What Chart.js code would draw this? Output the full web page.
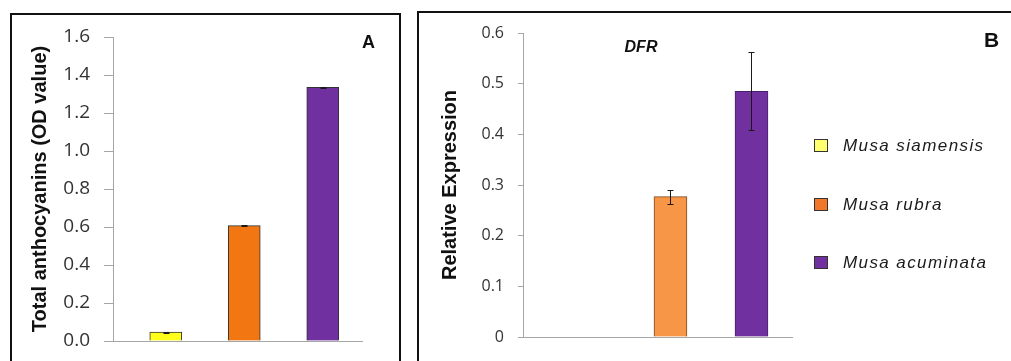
<!DOCTYPE html>
<html>
<head>
<meta charset="utf-8">
<script src="https://cdn.jsdelivr.net/npm/chart.js@4.4.0/dist/chart.umd.min.js"></script>
<style>
    body { margin: 0; background: #fff; width: 1011px; height: 361px; overflow: hidden; position: relative; }
    .frame { position: absolute; border: 2px solid #111; box-sizing: border-box; }
    #frameA { left: 10px; top: 13px; width: 391px; height: 400px; }
    #frameB { left: 417px; top: 11px; width: 700px; height: 400px; }
    canvas { position: absolute; top: 0; }
    #Anthocyanin { left: 0; }
    #Dfr { left: 405px; }
    .tag { position: absolute; line-height: 1; font-family: "Liberation Sans", Arial, sans-serif; font-weight: bold; color: #111; }
</style>
</head>
<body>
<div class="frame" id="frameA"></div>
<div class="frame" id="frameB"></div>
<canvas id="Anthocyanin" width="405" height="361"></canvas>
<canvas id="Dfr" width="606" height="361"></canvas>
<div class="tag" style="left:362px; top:33px; font-size:18px;">A</div>
<div class="tag" style="left:984px; top:29px; font-size:21px;">B</div>

<script>
    // values
    var species = ['Musa siamensis', 'Musa rubra', 'Musa acuminata'];
    var anthocyanin = [0.047, 0.607, 1.335];
    var anthocyaninErr = [0.003, 0.004, 0.003];
    var dfrExpression = [0, 0.277, 0.485];
    var dfrErr = [0, 0.014, 0.077];
    var ticksA = [0, 0.2, 0.4, 0.6, 0.8, 1.0, 1.2, 1.4, 1.6];
    var ticksB = [0, 0.1, 0.2, 0.3, 0.4, 0.5, 0.6];

    var coloursA = ['#ffff1a', '#f27712', '#7030a0'];
    var coloursB = ['#ffff66', '#f79646', '#7030a0'];
    var legendColours = ['#ffff70', '#f07828', '#7030a0'];
    var axisGrey = '#a6a6a6';

    // little I-shaped error bars on top of each bar
    var errorBars = {
        id: 'errorBars',
        afterDatasetsDraw: function (chart) {
            var ctx = chart.ctx;
            var y = chart.scales.y;
            chart.data.datasets.forEach(function (ds, d) {
                if (!ds.errors) return;
                chart.getDatasetMeta(d).data.forEach(function (bar, i) {
                    var e = ds.errors[i];
                    if (!e) return;
                    var v = ds.data[i].y;
                    var x = Math.round(bar.x) + 0.5;
                    var top = Math.round(y.getPixelForValue(v + e)) + 0.5;
                    var bot = Math.round(y.getPixelForValue(v - e)) + 0.5;
                    ctx.save();
                    ctx.strokeStyle = '#1a1a1a';
                    ctx.lineWidth = 1;
                    ctx.beginPath();
                    ctx.moveTo(x, top); ctx.lineTo(x, bot);
                    ctx.moveTo(x - 3, top); ctx.lineTo(x + 3, top);
                    ctx.moveTo(x - 3, bot); ctx.lineTo(x + 3, bot);
                    ctx.stroke();
                    ctx.restore();
                });
            });
        }
    };

    function fitY(width) {
        return function (scale) {
            scale.width = width;
            scale.paddingTop = 0;
            scale.paddingBottom = 0;
        };
    }

    function fitX(scale) {
        scale.height = 0;
        scale.paddingLeft = 0;
        scale.paddingRight = 0;
    }

    function points(values) {
        return values.map(function (v, i) { return { x: i, y: v }; });
    }

    function Anthocyanin()
    {
        new Chart(document.getElementById('Anthocyanin'), {
            type: 'bar',
            data: {
                datasets: [{
                    data: points(anthocyanin),
                    errors: anthocyaninErr,
                    backgroundColor: coloursA,
                    borderColor: '#333',
                    borderWidth: 1,
                    barThickness: 32
                }]
            },
            options: {
                responsive: false,
                animation: false,
                layout: { padding: { top: 37, bottom: 20, left: 0, right: 43 } },
                plugins: { legend: { display: false }, tooltip: { enabled: false } },
                scales: {
                    x: {
                        type: 'linear', min: -0.672, max: 2.5, offset: false,
                        ticks: { display: false },
                        grid: { display: false, offset: false },
                        border: { color: axisGrey },
                        afterFit: fitX
                    },
                    y: {
                        min: 0, max: 1.6,
                        afterBuildTicks: function (s) { s.ticks = ticksA.map(function (v) { return { value: v }; }); },
                        ticks: {
                            padding: 14, color: '#333',
                            font: { family: '"Open Sans"', size: 19 },
                            callback: function (v) { return v.toFixed(1); }
                        },
                        grid: { drawOnChartArea: false, tickLength: 9, color: axisGrey },
                        border: { color: axisGrey },
                        title: {
                            display: true, text: 'Total anthocyanins (OD value)', color: '#111',
                            font: { family: '"Liberation Sans"', weight: 'bold', size: 20 },
                            padding: { top: 28, bottom: 0 }
                        },
                        afterFit: fitY(113)
                    }
                }
            },
            plugins: [errorBars]
        });
    }

    function Dfr()
    {
        var labels = {
            id: 'dfrLabels',
            afterDraw: function (chart) {
                var ctx = chart.ctx;
                var area = chart.chartArea;
                ctx.save();
                ctx.fillStyle = '#111';
                ctx.textAlign = 'center';
                ctx.textBaseline = 'middle';
                ctx.font = 'italic bold 16px "Liberation Sans", Arial, sans-serif';
                ctx.fillText('DFR', area.left + 118, area.top + 15);

                ctx.textAlign = 'left';
                ctx.font = 'italic 17px "Liberation Sans", Arial, sans-serif';
                ctx.letterSpacing = '1.4px';
                species.forEach(function (name, i) {
                    var cy = Math.round(area.top + 112 + i * 58.5);
                    var x = Math.round(area.right) + 22;
                    ctx.fillStyle = legendColours[i];
                    ctx.fillRect(x, cy - 6, 14, 13);
                    ctx.strokeStyle = '#333';
                    ctx.lineWidth = 1;
                    ctx.strokeRect(x + 0.5, cy - 5.5, 13, 12);
                    ctx.fillStyle = '#1a1a1a';
                    ctx.fillText(name, x + 29, cy + 1);
                });
                ctx.restore();
            }
        };

        new Chart(document.getElementById('Dfr'), {
            type: 'bar',
            data: {
                datasets: [{
                    data: points(dfrExpression),
                    errors: dfrErr,
                    backgroundColor: coloursB,
                    borderColor: ['#555', '#7a4a22', '#4a2070'],
                    borderWidth: 1,
                    barThickness: 33
                }]
            },
            options: {
                responsive: false,
                animation: false,
                layout: { padding: { top: 33, bottom: 24, left: 0, right: 219 } },
                plugins: { legend: { display: false }, tooltip: { enabled: false } },
                scales: {
                    x: {
                        type: 'linear', min: -0.82, max: 2.5, offset: false,
                        ticks: { display: false },
                        grid: { display: false, offset: false },
                        border: { color: axisGrey },
                        afterFit: fitX
                    },
                    y: {
                        min: 0, max: 0.6,
                        afterBuildTicks: function (s) { s.ticks = ticksB.map(function (v) { return { value: v }; }); },
                        ticks: {
                            padding: 14, color: '#333',
                            font: { family: '"Open Sans"', size: 16 },
                            callback: function (v) { return v === 0 ? '0' : v.toFixed(1); }
                        },
                        grid: { drawOnChartArea: false, tickLength: 5, color: axisGrey },
                        border: { color: axisGrey },
                        title: {
                            display: true, text: 'Relative Expression', color: '#111',
                            font: { family: '"Liberation Sans"', weight: 'bold', size: 20 },
                            padding: { top: 33, bottom: 0 }
                        },
                        afterFit: fitY(118)
                    }
                }
            },
            plugins: [errorBars, labels]
        });
    }

    Anthocyanin();
    Dfr();
</script>
</body>
</html>
